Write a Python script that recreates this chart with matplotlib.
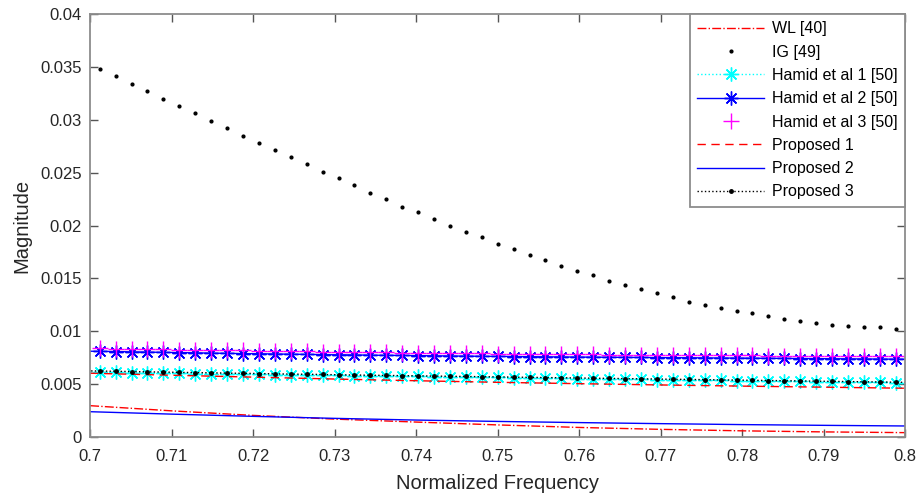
import numpy as np
import matplotlib.pyplot as plt

plt.rcParams['font.family'] = ['Liberation Sans', 'DejaVu Sans']

# frequency grid (k/512), one point past each axis limit
freq = np.arange(358, 411) / 512
# coarse grid for the plain lines
freq_line = [0.70, 0.71, 0.72, 0.73, 0.74, 0.75, 0.76, 0.77, 0.78, 0.79, 0.80]

wl = [0.00296, 0.00247, 0.00204, 0.00169, 0.00141, 0.00114, 0.00090, 0.00072, 0.00058, 0.00048, 0.00041]
proposed1 = [0.00603, 0.00584, 0.00566, 0.00548, 0.00532, 0.00517, 0.00504, 0.00492, 0.00481, 0.00471, 0.00461]
proposed2 = [0.00239, 0.00216, 0.00195, 0.00176, 0.00160, 0.00147, 0.00136, 0.00126, 0.00117, 0.00110, 0.00104]

ig = [0.0350, 0.0348, 0.0341, 0.0334, 0.0327, 0.0320, 0.0313, 0.0306, 0.0299, 0.0292, 0.0285,
      0.0278, 0.0271, 0.0265, 0.0258, 0.0251, 0.0245, 0.0238, 0.0231, 0.0225, 0.0218,
      0.0213, 0.0206, 0.0200, 0.0194, 0.0189, 0.0183, 0.0178, 0.0172, 0.0167, 0.0162,
      0.0157, 0.0153, 0.0148, 0.0144, 0.0140, 0.0136, 0.0132, 0.0128, 0.0125, 0.0122,
      0.0119, 0.0117, 0.0114, 0.0112, 0.0110, 0.0108, 0.0106, 0.0105, 0.0104, 0.0104,
      0.0102, 0.0101]

hamid1 = [0.00614, 0.00612, 0.00610, 0.00608, 0.00606, 0.00604, 0.00602, 0.00600, 0.00598, 0.00596,
          0.00594, 0.00592, 0.00590, 0.00589, 0.00587, 0.00585, 0.00583, 0.00581, 0.00579, 0.00577,
          0.00575, 0.00573, 0.00571, 0.00569, 0.00567, 0.00565, 0.00563, 0.00561, 0.00559, 0.00557,
          0.00555, 0.00553, 0.00551, 0.00549, 0.00547, 0.00545, 0.00543, 0.00541, 0.00539, 0.00537,
          0.00536, 0.00534, 0.00532, 0.00530, 0.00528, 0.00526, 0.00524, 0.00522, 0.00520, 0.00518,
          0.00516, 0.00514, 0.00512]

hamid2 = [0.00812, 0.00810, 0.00808, 0.00805, 0.00803, 0.00800, 0.00798, 0.00796, 0.00793, 0.00791,
          0.00789, 0.00787, 0.00785, 0.00783, 0.00781, 0.00779, 0.00777, 0.00776, 0.00774, 0.00772,
          0.00771, 0.00769, 0.00768, 0.00766, 0.00765, 0.00763, 0.00762, 0.00761, 0.00759, 0.00758,
          0.00757, 0.00756, 0.00755, 0.00754, 0.00753, 0.00752, 0.00751, 0.00750, 0.00749, 0.00748,
          0.00747, 0.00746, 0.00745, 0.00744, 0.00743, 0.00742, 0.00741, 0.00740, 0.00739, 0.00738,
          0.00737, 0.00736, 0.00735]

hamid3 = [0.00840, 0.00838, 0.00836, 0.00834, 0.00831, 0.00829, 0.00827, 0.00825, 0.00823, 0.00820,
          0.00818, 0.00816, 0.00814, 0.00812, 0.00810, 0.00808, 0.00806, 0.00804, 0.00802, 0.00800,
          0.00799, 0.00797, 0.00795, 0.00794, 0.00792, 0.00791, 0.00789, 0.00788, 0.00786, 0.00785,
          0.00784, 0.00782, 0.00781, 0.00780, 0.00779, 0.00778, 0.00777, 0.00776, 0.00775, 0.00774,
          0.00773, 0.00772, 0.00771, 0.00770, 0.00769, 0.00768, 0.00767, 0.00766, 0.00765, 0.00764,
          0.00763, 0.00762, 0.00761]

proposed3 = [0.00626, 0.00624, 0.00621, 0.00619, 0.00616, 0.00614, 0.00611, 0.00609, 0.00607, 0.00604,
             0.00602, 0.00600, 0.00597, 0.00595, 0.00593, 0.00591, 0.00588, 0.00586, 0.00584, 0.00582,
             0.00580, 0.00578, 0.00576, 0.00574, 0.00572, 0.00570, 0.00568, 0.00566, 0.00564, 0.00562,
             0.00560, 0.00558, 0.00556, 0.00554, 0.00552, 0.00550, 0.00548, 0.00546, 0.00544, 0.00542,
             0.00540, 0.00538, 0.00536, 0.00534, 0.00532, 0.00530, 0.00528, 0.00526, 0.00524, 0.00522,
             0.00520, 0.00518, 0.00516]

inside = slice(1, 52)  # markers only for points within the axis range
asterisk = (8, 2, 0)

fig = plt.figure(figsize=(9.2, 5.04), dpi=100)
ax = fig.add_axes([0.098, 0.133, 0.886, 0.839])

ax.plot(freq_line, wl, color='red', linestyle='-.', linewidth=1, label='WL [40]')
ax.plot(freq, ig, color='black', linestyle='none', marker='.', markersize=4,
        markevery=inside, label='IG [49]')
ax.plot(freq, hamid1, color='cyan', linestyle=':', linewidth=1, marker=asterisk,
        markersize=10, markeredgewidth=1, markevery=inside, label='Hamid et al 1 [50]')
ax.plot(freq, hamid2, color='blue', linestyle='-', linewidth=1, marker=asterisk,
        markersize=10, markeredgewidth=1, markevery=inside, label='Hamid et al 2 [50]')
ax.plot(freq, hamid3, color='magenta', linestyle='none', marker='+',
        markersize=11, markeredgewidth=1, markevery=inside, label='Hamid et al 3 [50]')
ax.plot(freq_line, proposed1, color='red', linestyle='--', linewidth=1, dashes=(6, 4),
        label='Proposed 1')
ax.plot(freq_line, proposed2, color='blue', linestyle='-', linewidth=1, label='Proposed 2')
ax.plot(freq, proposed3, color='black', linestyle=':', linewidth=1, marker='.',
        markersize=5, markevery=inside, label='Proposed 3')

ax.set_xlim(0.7, 0.8)
ax.set_ylim(0, 0.04)
ax.set_xticks(np.arange(0.7, 0.8001, 0.01))
ax.set_xticklabels(['0.7', '0.71', '0.72', '0.73', '0.74', '0.75', '0.76', '0.77', '0.78', '0.79', '0.8'])
ax.set_yticks(np.arange(0, 0.0401, 0.005))
ax.set_yticklabels(['0', '0.005', '0.01', '0.015', '0.02', '0.025', '0.03', '0.035', '0.04'])

for s in ax.spines.values():
    s.set_color('#8c8c8c')
    s.set_linewidth(1.3)
ax.tick_params(direction='in', top=True, right=True, length=6, width=1, color='#555555',
               labelcolor='#262626', labelsize=12)
ax.tick_params(axis='x', pad=9)
ax.tick_params(axis='y', pad=6)

ax.set_xlabel('Normalized Frequency', fontsize=14.5, color='#262626', labelpad=7)
ax.set_ylabel('Magnitude', fontsize=14.5, color='#262626', labelpad=6)

leg = ax.legend(loc='upper right', bbox_to_anchor=(1.0, 1.0), borderaxespad=0, fontsize=11.5,
                handlelength=4.2, handletextpad=0.5, labelspacing=0.52, borderpad=0.45,
                fancybox=False, framealpha=1, edgecolor='#8c8c8c')
leg.get_frame().set_linewidth(1.3)

fig.savefig('out.png', dpi=100)
